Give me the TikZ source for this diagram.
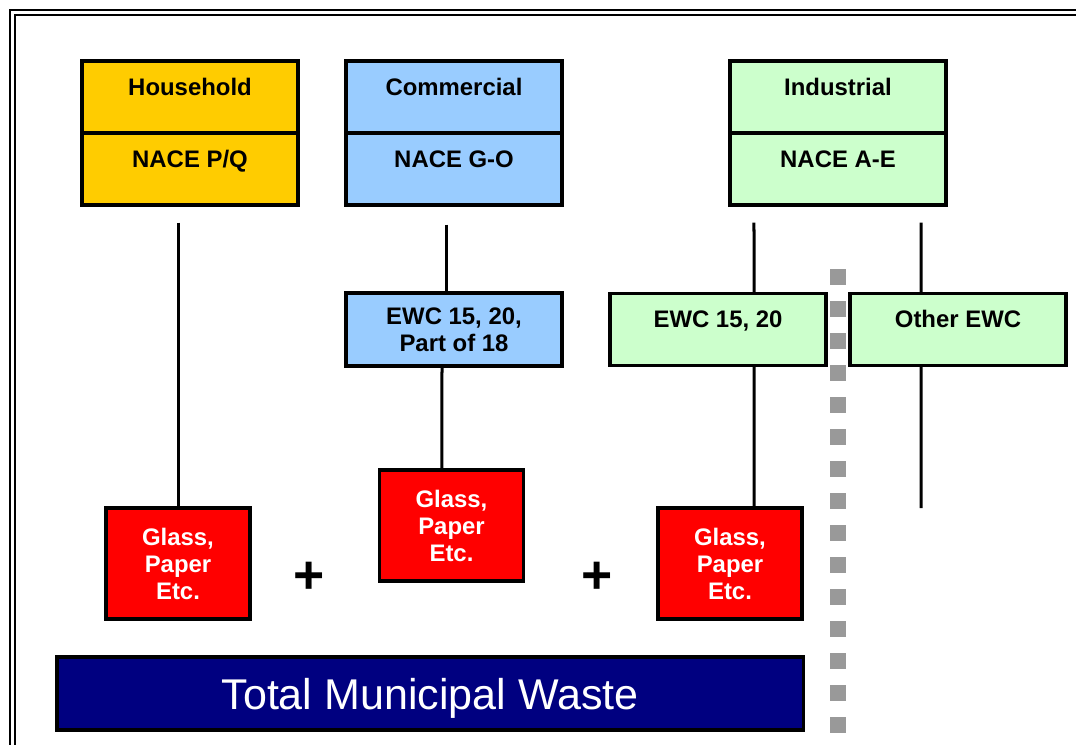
\documentclass[tikz,border=0pt]{standalone}
\usepackage{fontspec}
\setmainfont{Liberation Sans}
\definecolor{hhyellow}{HTML}{FFCC00}
\definecolor{comblue}{HTML}{99CCFF}
\definecolor{indgreen}{HTML}{CCFFCC}
\definecolor{wastered}{HTML}{FF0000}
\definecolor{totnavy}{HTML}{000080}
\definecolor{sepgray}{HTML}{999999}
\begin{document}
\begin{tikzpicture}[x=0.025cm,y=-0.025cm,
   cell/.style={draw,line width=0.08cm,minimum width=5.4cm,inner sep=0pt,
      text height=0.85cm,text depth=0.95cm,font=\fontsize{17}{19.2}\selectfont\bfseries},
   twoline/.style={draw,line width=0.08cm,minimum width=5.4cm,minimum height=1.825cm,
      inner sep=0pt,align=center,font=\fontsize{17}{19.2}\selectfont\bfseries},
   redbox/.style={draw,fill=wastered,line width=0.08cm,minimum width=3.6cm,minimum height=2.775cm,
      inner sep=0pt,align=center,text=white,font=\fontsize{17}{19.2}\selectfont\bfseries},
   link/.style={line width=0.075cm},
   plus/.style={inner sep=0pt,font=\fontsize{38}{40}\selectfont\bfseries}]
   \useasboundingbox (0,0) rectangle (1076,744);
   % double frame, runs off the page on the right and at the bottom
   \begin{scope}
     \clip (0,0) rectangle (1076,744);
     \draw[line width=0.05cm] (10,10) rectangle (1100,770);
     \draw[line width=0.05cm] (15,15) rectangle (1095,765);
   \end{scope}
   % sectors
   \node[cell,fill=hhyellow] (hhead) at (190,97) {Household};
   \node[cell,fill=hhyellow] (hnace) at (190,169) {NACE P/Q};
   \node[cell,fill=comblue] (chead) at (454,97) {Commercial};
   \node[cell,fill=comblue] (cnace) at (454,169) {NACE G-O};
   \node[cell,fill=indgreen] (ihead) at (838,97) {Industrial};
   \node[cell,fill=indgreen] (inace) at (838,169) {NACE A-E};
   % waste codes
   \node[twoline,fill=comblue] (cewc) at (454,329.5) {EWC 15, 20,\\Part of 18};
   \node[cell,fill=indgreen] (iewc) at (718,329.5) {EWC 15, 20};
   \node[cell,fill=indgreen] (oewc) at (958,329.5) {Other EWC};
   \coordinate (oend) at (921,508);
   % separator
   \draw[sepgray,line width=0.4cm,dash pattern=on 0.4cm off 0.4cm] (838,269) -- (838,733);
   % municipal parts
   \node[redbox] (hred) at (178,563.5) {Glass,\\Paper\\Etc.};
   \node[redbox] (cred) at (451.5,525.5) {Glass,\\Paper\\Etc.};
   \node[redbox] (ired) at (730,563.5) {Glass,\\Paper\\Etc.};
   \node[plus] (plusa) at (309,578) {+};
   \node[plus] (plusb) at (597,578) {+};
   % links
   \draw[link,shorten <=0.4cm] (hred.north |- hnace.south) -- (hred.north);
   \draw[link,shorten <=0.45cm] ([xshift=-0.2cm]cnace.south) -- ([xshift=-0.2cm]cewc.north);
   \draw[link] ([xshift=-0.3cm]cewc.south) -- ([xshift=-0.24cm]cred.north);
   \draw[link,shorten <=0.4cm] ([xshift=-2.1cm]inace.south) -- ([xshift=0.9cm]iewc.north);
   \draw[link] ([xshift=0.9cm]iewc.south) -- ([xshift=0.6cm]ired.north);
   \draw[link,shorten <=0.4cm] ([xshift=2.075cm]inace.south) -- ([xshift=-0.925cm]oewc.north);
   \draw[link] ([xshift=-0.925cm]oewc.south) -- (oend);
   % total
   \node[draw,line width=0.08cm,fill=totnavy,text=white,minimum width=18.65cm,minimum height=1.825cm,
      text depth=0pt,font=\fontsize{30.6}{36}\selectfont] (total) at (430,693.5) {Total Municipal Waste};
\end{tikzpicture}
\end{document}
